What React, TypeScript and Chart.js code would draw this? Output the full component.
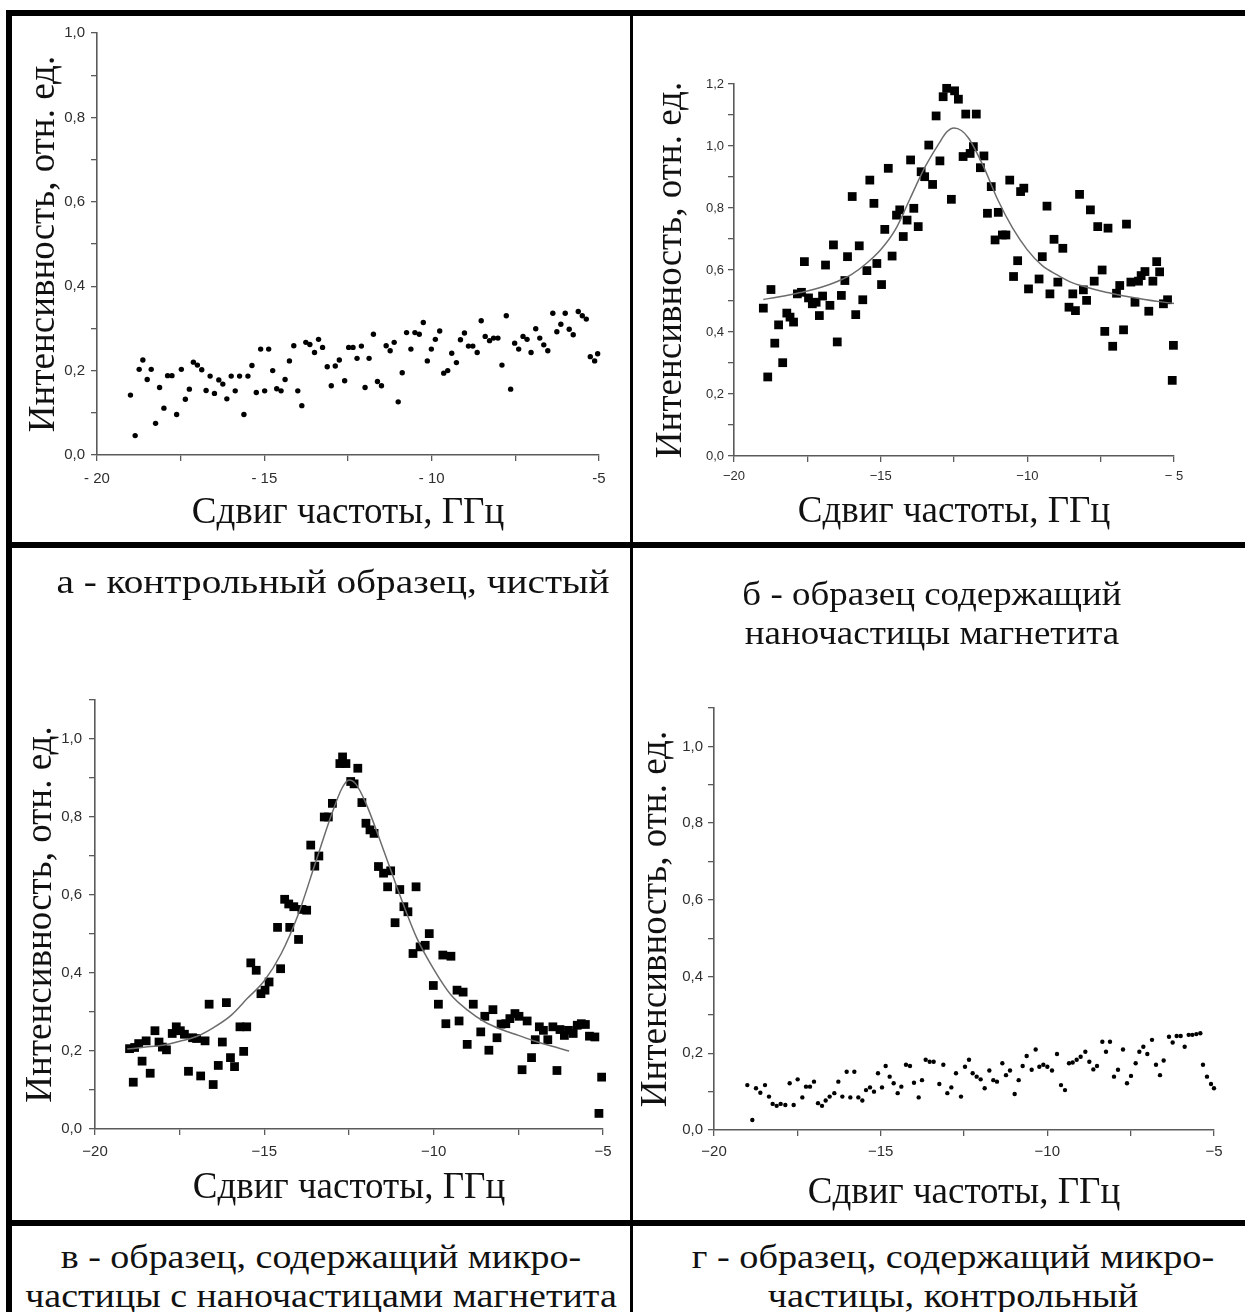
import React, { useEffect, useRef } from 'react';
import { Chart, registerables } from 'chart.js';

Chart.register(...registerables);

// ---------- shared text ----------
const X_TITLE = 'Сдвиг частоты, ГГц';
const Y_TITLE = 'Интенсивность, отн. ед.';
const X_MAJOR = [-20, -15, -10, -5];
const X_MINOR = [-17.5, -12.5, -7.5];
const A_X_LABELS = ['- 20', '- 15', '- 10', '-5'];
const B_X_LABELS = ['−20', '−15', '−10', '− 5'];
const CD_X_LABELS = ['−20', '−15', '−10', '−5'];
const Y_MAJOR_10 = [0, 0.2, 0.4, 0.6, 0.8, 1.0];
const Y_LABELS_10 = ['0,0', '0,2', '0,4', '0,6', '0,8', '1,0'];
const Y_MINOR_10 = [0.1, 0.3, 0.5, 0.7, 0.9];
const Y_MINOR_11 = [0.1, 0.3, 0.5, 0.7, 0.9, 1.1];
const Y_MAJOR_12 = [0, 0.2, 0.4, 0.6, 0.8, 1.0, 1.2];
const Y_LABELS_12 = ['0,0', '0,2', '0,4', '0,6', '0,8', '1,0', '1,2'];
const Y_MINOR_12 = [0.1, 0.3, 0.5, 0.7, 0.9, 1.1];

const CAPTION_A = ['а - контрольный образец, чистый'];
const CAPTION_B = ['б - образец содержащий', 'наночастицы магнетита'];
const CAPTION_C = ['в - образец, содержащий микро-', 'частицы с наночастицами магнетита'];
const CAPTION_D = ['г - образец, содержащий микро-', 'частицы, контрольный'];

// ---------- panel а : clean control sample ----------
const A_X = [-19.0, -18.86, -18.74, -18.63, -18.5, -18.38, -18.25, -18.13, -18.0, -17.89, -17.76, -17.62, -17.48, -17.36, -17.24, -17.12, -17.0, -16.87, -16.74, -16.62, -16.49, -16.36, -16.24, -16.12, -15.99, -15.87, -15.74, -15.61, -15.49, -15.37, -15.24, -15.11, -14.99, -14.87, -14.75, -14.63, -14.5, -14.38, -14.25, -14.12, -14.0, -13.88, -13.76, -13.64, -13.5, -13.38, -13.26, -13.12, -13.0, -12.88, -12.76, -12.6, -12.48, -12.35, -12.23, -12.1, -11.99, -11.87, -11.74, -11.62, -11.5, -11.36, -11.24, -11.12, -11.0, -10.88, -10.75, -10.62, -10.5, -10.37, -10.25, -10.13, -10.01, -9.89, -9.76, -9.64, -9.52, -9.4, -9.26, -9.14, -9.02, -8.9, -8.77, -8.64, -8.52, -8.4, -8.27, -8.15, -8.02, -7.9, -7.77, -7.64, -7.52, -7.4, -7.27, -7.15, -7.03, -6.89, -6.77, -6.65, -6.53, -6.38, -6.26, -6.14, -6.01, -5.89, -5.77, -5.62, -5.5, -5.38, -5.26, -5.13, -5.04];
const A_Y = [0.142, 0.046, 0.203, 0.225, 0.179, 0.203, 0.075, 0.16, 0.111, 0.188, 0.188, 0.096, 0.203, 0.132, 0.156, 0.22, 0.213, 0.202, 0.153, 0.187, 0.146, 0.178, 0.168, 0.133, 0.187, 0.152, 0.187, 0.096, 0.187, 0.212, 0.148, 0.251, 0.152, 0.251, 0.2, 0.157, 0.152, 0.179, 0.223, 0.259, 0.152, 0.117, 0.267, 0.262, 0.243, 0.274, 0.255, 0.209, 0.164, 0.211, 0.225, 0.176, 0.255, 0.255, 0.229, 0.258, 0.16, 0.229, 0.286, 0.174, 0.164, 0.259, 0.247, 0.267, 0.126, 0.195, 0.29, 0.251, 0.29, 0.286, 0.314, 0.223, 0.251, 0.274, 0.294, 0.194, 0.2, 0.241, 0.219, 0.273, 0.289, 0.258, 0.258, 0.243, 0.318, 0.281, 0.271, 0.277, 0.277, 0.213, 0.33, 0.156, 0.265, 0.251, 0.281, 0.274, 0.243, 0.299, 0.277, 0.261, 0.247, 0.336, 0.292, 0.31, 0.336, 0.298, 0.285, 0.34, 0.33, 0.322, 0.233, 0.223, 0.24];

// ---------- panel б : magnetite nanoparticles ----------
const B_X = [-19.0, -18.85, -18.74, -18.61, -18.48, -18.34, -18.2, -18.09, -17.97, -17.84, -17.7, -17.6, -17.46, -17.33, -17.2, -17.09, -16.98, -16.88, -16.73, -16.61, -16.48, -16.34, -16.22, -16.13, -15.97, -15.85, -15.73, -15.61, -15.47, -15.37, -15.23, -15.13, -14.97, -14.86, -14.74, -14.61, -14.46, -14.35, -14.23, -14.1, -13.98, -13.87, -13.72, -13.62, -13.5, -13.36, -13.23, -13.11, -12.98, -12.87, -12.75, -12.59, -12.48, -12.35, -12.19, -12.1, -11.95, -11.84, -11.74, -11.6, -11.48, -11.36, -11.23, -11.1, -10.99, -10.85, -10.73, -10.6, -10.47, -10.33, -10.23, -10.12, -9.96, -9.6, -9.49, -9.33, -9.23, -9.09, -8.96, -8.79, -8.58, -8.45, -8.36, -8.22, -8.09, -7.98, -7.85, -7.72, -7.6, -7.45, -7.36, -7.25, -7.09, -6.96, -6.85, -6.72, -6.62, -6.47, -6.33, -6.21, -6.12, -5.99, -5.86, -5.72, -5.59, -5.49, -5.36, -5.22, -5.02, -5.06];
const B_Y = [0.477, 0.255, 0.537, 0.364, 0.423, 0.301, 0.461, 0.448, 0.432, 0.523, 0.528, 0.627, 0.51, 0.491, 0.496, 0.453, 0.516, 0.616, 0.486, 0.681, 0.368, 0.518, 0.566, 0.643, 0.837, 0.456, 0.678, 0.504, 0.598, 0.89, 0.815, 0.621, 0.553, 0.731, 0.928, 0.645, 0.777, 0.794, 0.708, 0.761, 0.955, 0.799, 0.74, 0.917, 0.901, 1.003, 0.876, 1.097, 0.952, 1.159, 1.186, 0.828, 1.178, 1.151, 0.966, 1.103, 0.976, 0.998, 1.103, 0.93, 0.968, 0.783, 0.869, 0.697, 0.786, 0.713, 0.713, 0.89, 0.579, 0.63, 0.853, 0.864, 0.539, 0.571, 0.643, 0.806, 0.523, 0.699, 0.561, 0.67, 0.48, 0.523, 0.469, 0.844, 0.536, 0.502, 0.794, 0.564, 0.74, 0.6, 0.402, 0.735, 0.354, 0.525, 0.55, 0.407, 0.748, 0.561, 0.496, 0.564, 0.582, 0.595, 0.467, 0.564, 0.627, 0.594, 0.491, 0.504, 0.357, 0.244];
const B_FIT_X = [-19.0, -18.5, -18.0, -17.5, -17.0, -16.5, -16.0, -15.5, -15.0, -14.5, -14.0, -13.5, -13.0, -12.75, -12.5, -12.25, -12.0, -11.5, -11.0, -10.5, -10.0, -9.5, -9.0, -8.5, -8.0, -7.5, -7.0, -6.5, -6.0, -5.5, -5.0];
const B_FIT_Y = [0.505, 0.513, 0.522, 0.532, 0.545, 0.562, 0.585, 0.62, 0.665, 0.73, 0.83, 0.93, 1.01, 1.045, 1.058, 1.05, 1.025, 0.935, 0.825, 0.735, 0.665, 0.615, 0.585, 0.56, 0.545, 0.532, 0.522, 0.513, 0.505, 0.498, 0.492];

// ---------- panel в : microparticles with magnetite nanoparticles ----------
const C_X = [-18.98, -18.87, -18.83, -18.71, -18.61, -18.49, -18.37, -18.23, -18.11, -18.01, -17.89, -17.72, -17.6, -17.48, -17.36, -17.24, -17.12, -17.0, -16.88, -16.75, -16.63, -16.51, -16.36, -16.24, -16.12, -16.0, -15.88, -15.72, -15.61, -15.52, -15.4, -15.24, -15.1, -14.98, -14.86, -14.61, -14.52, -14.4, -14.28, -14.25, -14.13, -13.99, -13.89, -13.75, -13.63, -13.51, -13.39, -13.23, -13.11, -12.99, -12.77, -12.69, -12.59, -12.45, -12.35, -12.24, -12.12, -12.0, -11.88, -11.76, -11.63, -11.48, -11.36, -11.27, -11.14, -11.0, -10.88, -10.76, -10.61, -10.52, -10.4, -10.25, -10.13, -10.01, -9.86, -9.73, -9.64, -9.49, -9.31, -9.25, -9.13, -9.01, -8.83, -8.61, -8.49, -8.37, -8.25, -8.13, -8.01, -7.87, -7.75, -7.6, -7.48, -7.39, -7.24, -7.11, -7.0, -6.88, -6.76, -6.63, -6.48, -6.36, -6.27, -6.14, -6.02, -5.88, -5.76, -5.64, -5.52, -5.4, -5.24, -5.04, -5.12];
const C_Y = [0.206, 0.12, 0.209, 0.219, 0.174, 0.226, 0.143, 0.252, 0.223, 0.21, 0.203, 0.245, 0.262, 0.252, 0.243, 0.148, 0.234, 0.232, 0.136, 0.226, 0.32, 0.114, 0.163, 0.223, 0.324, 0.183, 0.16, 0.262, 0.199, 0.262, 0.426, 0.407, 0.347, 0.356, 0.377, 0.517, 0.411, 0.589, 0.577, 0.517, 0.57, 0.486, 0.563, 0.561, 0.728, 0.674, 0.7, 0.8, 0.8, 0.835, 0.937, 0.954, 0.937, 0.891, 0.885, 0.925, 0.837, 0.784, 0.767, 0.758, 0.673, 0.656, 0.621, 0.662, 0.529, 0.614, 0.57, 0.557, 0.45, 0.621, 0.467, 0.471, 0.501, 0.368, 0.32, 0.446, 0.27, 0.443, 0.356, 0.277, 0.351, 0.217, 0.32, 0.249, 0.289, 0.202, 0.306, 0.234, 0.269, 0.27, 0.283, 0.296, 0.289, 0.152, 0.277, 0.183, 0.229, 0.262, 0.253, 0.229, 0.262, 0.15, 0.255, 0.24, 0.253, 0.245, 0.266, 0.27, 0.268, 0.238, 0.236, 0.133, 0.04];
const C_FIT_X = [-19.05, -18.5, -18.0, -17.5, -17.0, -16.5, -16.0, -15.5, -15.0, -14.5, -14.0, -13.5, -13.0, -12.7, -12.5, -12.3, -12.0, -11.5, -11.0, -10.5, -10.0, -9.5, -9.0, -8.5, -8.0, -7.5, -7.0, -6.5, -6.0];
const C_FIT_Y = [0.205, 0.21, 0.215, 0.225, 0.237, 0.26, 0.29, 0.335, 0.38, 0.45, 0.55, 0.68, 0.81, 0.875, 0.895, 0.885, 0.835, 0.72, 0.6, 0.49, 0.41, 0.345, 0.305, 0.275, 0.255, 0.24, 0.225, 0.212, 0.2];

// ---------- panel г : microparticles, control ----------
const D_X = [-19.0, -18.85, -18.74, -18.61, -18.47, -18.35, -18.24, -18.12, -18.0, -17.86, -17.73, -17.61, -17.49, -17.35, -17.24, -17.12, -17.0, -16.88, -16.76, -16.65, -16.53, -16.39, -16.27, -16.15, -16.02, -15.91, -15.79, -15.67, -15.55, -15.44, -15.32, -15.2, -15.08, -14.96, -14.85, -14.73, -14.61, -14.49, -14.38, -14.24, -14.12, -14.0, -13.86, -13.76, -13.65, -13.53, -13.41, -13.24, -13.12, -13.0, -12.88, -12.74, -12.59, -12.47, -12.35, -12.24, -12.12, -12.0, -11.88, -11.74, -11.62, -11.51, -11.35, -11.24, -11.12, -10.98, -10.86, -10.74, -10.62, -10.47, -10.35, -10.24, -10.12, -10.0, -9.86, -9.71, -9.59, -9.47, -9.35, -9.24, -9.12, -9.0, -8.86, -8.74, -8.62, -8.51, -8.35, -8.24, -8.12, -8.0, -7.88, -7.73, -7.61, -7.49, -7.35, -7.24, -7.12, -7.0, -6.86, -6.74, -6.62, -6.51, -6.35, -6.24, -6.12, -6.0, -5.88, -5.76, -5.65, -5.53, -5.41, -5.33, -5.21, -5.09, -5.0];
const D_Y = [0.117, 0.026, 0.109, 0.097, 0.117, 0.087, 0.068, 0.063, 0.068, 0.065, 0.122, 0.065, 0.132, 0.085, 0.113, 0.113, 0.126, 0.07, 0.063, 0.077, 0.087, 0.096, 0.126, 0.087, 0.152, 0.085, 0.152, 0.085, 0.077, 0.104, 0.111, 0.1, 0.148, 0.111, 0.167, 0.139, 0.122, 0.096, 0.113, 0.17, 0.167, 0.123, 0.085, 0.13, 0.183, 0.178, 0.178, 0.12, 0.17, 0.096, 0.111, 0.148, 0.087, 0.165, 0.183, 0.148, 0.139, 0.132, 0.109, 0.155, 0.13, 0.126, 0.174, 0.143, 0.155, 0.094, 0.13, 0.167, 0.193, 0.157, 0.21, 0.165, 0.17, 0.165, 0.155, 0.198, 0.117, 0.104, 0.174, 0.176, 0.183, 0.191, 0.204, 0.178, 0.158, 0.167, 0.23, 0.204, 0.23, 0.139, 0.157, 0.21, 0.122, 0.141, 0.174, 0.204, 0.217, 0.198, 0.235, 0.17, 0.143, 0.181, 0.243, 0.228, 0.245, 0.245, 0.217, 0.248, 0.248, 0.25, 0.252, 0.17, 0.139, 0.12, 0.109];

// ---------- styling ----------
const SERIF = "'Liberation Serif', 'Times New Roman', serif";
const SANS = "'Liberation Sans', Arial, sans-serif";
const AXIS_COLOR = '#5a5a5a';
const TICK_COLOR = '#2e2e2e';
const FIT_COLOR = '#6c6c6c';
const TITLE_SIZE = 37;

type PanelSpec = {
  left: number; top: number; width: number; height: number;
  padTop: number; padRight: number; yWidth: number; xHeight: number;
  yMax: number; yMajor: number[]; yLabels: string[]; yMinor: number[];
  xLabels: string[];
  xs: number[]; ys: number[]; fitX?: number[]; fitY?: number[];
  pointStyle: 'circle' | 'rect'; pointRadius: number;
  tickFont: number; yTickPad: number; xTickPad: number; xTitlePad: number; yTitlePad: number;
};

const PANELS: PanelSpec[] = [
  {
    left: 12, top: 16, width: 618, height: 526, padTop: 17, padRight: 31, yWidth: 85, xHeight: 87,
    yMax: 1.0, yMajor: Y_MAJOR_10, yLabels: Y_LABELS_10, yMinor: Y_MINOR_10, xLabels: A_X_LABELS,
    xs: A_X, ys: A_Y, pointStyle: 'circle', pointRadius: 2.7,
    tickFont: 15, yTickPad: 6, xTickPad: 10, xTitlePad: 10, yTitlePad: 14,
  },
  {
    left: 633, top: 16, width: 612, height: 526, padTop: 68, padRight: 71, yWidth: 101, xHeight: 86,
    yMax: 1.2, yMajor: Y_MAJOR_12, yLabels: Y_LABELS_12, yMinor: Y_MINOR_12, xLabels: B_X_LABELS,
    xs: B_X, ys: B_Y, fitX: B_FIT_X, fitY: B_FIT_Y, pointStyle: 'rect', pointRadius: 6.2,
    tickFont: 13, yTickPad: 4, xTickPad: 8, xTitlePad: 11, yTitlePad: 20,
  },
  {
    left: 12, top: 548, width: 618, height: 672, padTop: 152, padRight: 27, yWidth: 83, xHeight: 91,
    yMax: 1.1, yMajor: Y_MAJOR_10, yLabels: Y_LABELS_10, yMinor: Y_MINOR_11, xLabels: CD_X_LABELS,
    xs: C_X, ys: C_Y, fitX: C_FIT_X, fitY: C_FIT_Y, pointStyle: 'rect', pointRadius: 6.2,
    tickFont: 15, yTickPad: 7, xTickPad: 9, xTitlePad: 13, yTitlePad: 11,
  },
  {
    left: 633, top: 548, width: 612, height: 672, padTop: 160, padRight: 31, yWidth: 81, xHeight: 90,
    yMax: 1.1, yMajor: Y_MAJOR_10, yLabels: Y_LABELS_10, yMinor: Y_MINOR_11, xLabels: CD_X_LABELS,
    xs: D_X, ys: D_Y, pointStyle: 'circle', pointRadius: 2.2,
    tickFont: 15, yTickPad: 5, xTickPad: 8, xTitlePad: 8, yTitlePad: 5,
  },
];

function labelFor(value: number, majors: number[], labels: string[]): string {
  const i = majors.findIndex((m) => Math.abs(m - value) < 1e-6);
  return i >= 0 ? labels[i] : '';
}

function buildConfig(p: PanelSpec): any {
  const datasets: any[] = [
    {
      data: p.xs.map((x, i) => ({ x, y: p.ys[i] })),
      pointStyle: p.pointStyle,
      pointRadius: p.pointRadius,
      pointBackgroundColor: '#000',
      pointBorderColor: '#000',
      pointBorderWidth: 0,
      showLine: false,
      clip: false,
      order: 1,
    },
  ];
  if (p.fitX && p.fitY) {
    const fy = p.fitY;
    datasets.push({
      data: p.fitX.map((x, i) => ({ x, y: fy[i] })),
      showLine: true,
      pointRadius: 0,
      borderColor: FIT_COLOR,
      borderWidth: 1.5,
      cubicInterpolationMode: 'monotone',
      fill: false,
      clip: false,
      order: 0,
    });
  }
  const grid = { display: true, drawOnChartArea: false, drawTicks: true, tickLength: 6, color: AXIS_COLOR, lineWidth: 1.3 };
  const border = { display: true, color: AXIS_COLOR, width: 1.6 };
  const xTicksAll = [...X_MAJOR, ...X_MINOR].sort((a, b) => a - b);
  const yTicksAll = [...p.yMajor, ...p.yMinor].sort((a, b) => a - b);
  return {
    type: 'scatter',
    data: { datasets },
    options: {
      responsive: false,
      animation: false,
      devicePixelRatio: 1,
      events: [],
      layout: { padding: { left: 0, top: p.padTop, right: p.padRight, bottom: 0 } },
      plugins: { legend: { display: false }, tooltip: { enabled: false } },
      scales: {
        x: {
          type: 'linear',
          min: -20,
          max: -5,
          afterBuildTicks: (s: any) => { s.ticks = xTicksAll.map((v) => ({ value: v })); },
          afterFit: (s: any) => { s.height = p.xHeight; },
          ticks: {
            autoSkip: false,
            maxRotation: 0,
            padding: p.xTickPad,
            color: TICK_COLOR,
            font: { family: SANS, size: p.tickFont, lineHeight: 1 },
            callback: (v: any) => labelFor(Number(v), X_MAJOR, p.xLabels),
          },
          grid,
          border,
          title: {
            display: true,
            text: X_TITLE,
            color: '#111',
            font: { family: SERIF, size: TITLE_SIZE, lineHeight: 1 },
            padding: { top: 0, bottom: p.xTitlePad },
          },
        },
        y: {
          type: 'linear',
          min: 0,
          max: p.yMax,
          afterBuildTicks: (s: any) => { s.ticks = yTicksAll.map((v) => ({ value: v })); },
          afterFit: (s: any) => { s.width = p.yWidth; },
          ticks: {
            autoSkip: false,
            padding: p.yTickPad,
            color: TICK_COLOR,
            font: { family: SANS, size: p.tickFont, lineHeight: 1 },
            callback: (v: any) => labelFor(Number(v), p.yMajor, p.yLabels),
          },
          grid,
          border,
          title: {
            display: true,
            text: Y_TITLE,
            color: '#111',
            font: { family: SERIF, size: TITLE_SIZE, lineHeight: 1 },
            padding: { top: p.yTitlePad, bottom: 0 },
          },
        },
      },
    },
  };
}

function Panel({ spec }: { spec: PanelSpec }) {
  const ref = useRef<HTMLCanvasElement | null>(null);
  useEffect(() => {
    if (!ref.current) return;
    const chart = new Chart(ref.current, buildConfig(spec));
    return () => chart.destroy();
  }, [spec]);
  return (
    <canvas
      ref={ref}
      width={spec.width}
      height={spec.height}
      style={{ position: 'absolute', left: spec.left, top: spec.top, width: spec.width, height: spec.height }}
    />
  );
}

function Caption({ lines, left, width, top, stretch }: { lines: string[]; left: number; width: number; top: number; stretch: number }) {
  return (
    <div
      style={{
        position: 'absolute', left, top, width, textAlign: 'center',
        fontFamily: SERIF, fontSize: 33, lineHeight: '39px', color: '#111',
        transform: `scaleX(${stretch})`, transformOrigin: 'center',
      }}
    >
      {lines.map((l, i) => (<div key={i} style={{ whiteSpace: 'nowrap' }}>{l}</div>))}
    </div>
  );
}

const line = (left: number, top: number, width: number, height: number): React.CSSProperties => ({
  position: 'absolute', left, top, width, height, background: '#000', zIndex: 2,
});

export default function App() {
  return (
    <div style={{ position: 'absolute', left: 0, top: 0, width: 1245, height: 1312, background: '#fff', overflow: 'hidden' }}>
      {PANELS.map((p, i) => (<Panel key={i} spec={p} />))}
      <Caption lines={CAPTION_A} left={24} width={618} top={563} stretch={1.19} />
      <Caption lines={CAPTION_B} left={630} width={604} top={575} stretch={1.12} />
      <Caption lines={CAPTION_C} left={12} width={618} top={1238} stretch={1.15} />
      <Caption lines={CAPTION_D} left={633} width={640} top={1238} stretch={1.16} />
      <div style={line(6, 10, 1245, 6)} />
      <div style={line(6, 10, 6, 1302)} />
      <div style={line(630, 10, 3, 1302)} />
      <div style={line(6, 542, 1245, 6)} />
      <div style={line(6, 1220, 1245, 6)} />
    </div>
  );
}
